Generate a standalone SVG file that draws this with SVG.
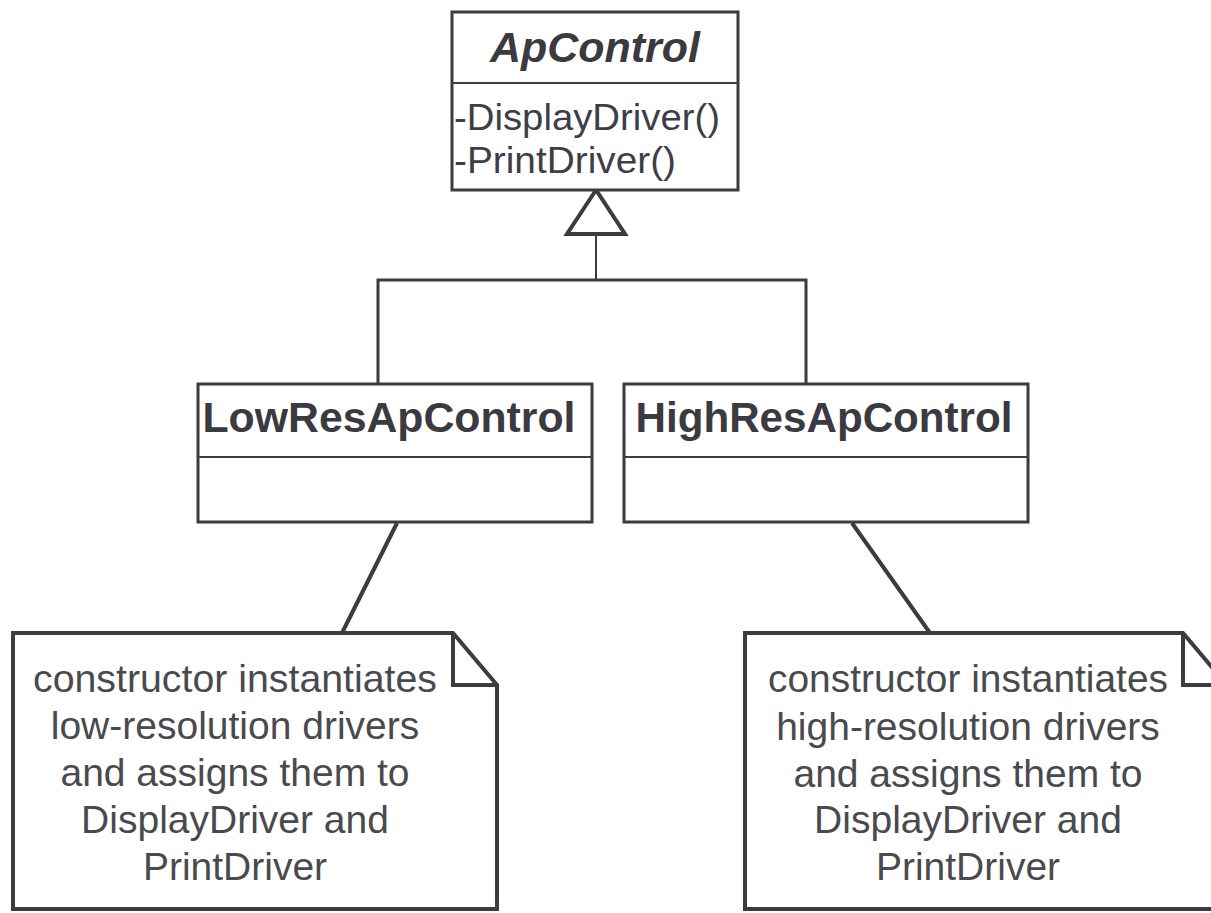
<svg xmlns="http://www.w3.org/2000/svg" width="1211" height="913" viewBox="0 0 1211 913">
  <style>
    .box { fill: #ffffff; stroke: #3b3b40; stroke-width: 3; }
    .sep { stroke: #4a3a3a; stroke-width: 2; }
    .note { fill: #ffffff; stroke: #3b3b40; stroke-width: 4; stroke-linejoin: miter; }
    .fold { fill: none; stroke: #3b3b40; stroke-width: 4; stroke-linejoin: miter; }
    .link { fill: none; stroke: #3b3b40; stroke-width: 4; }
    .gen { fill: none; stroke: #3b3b40; stroke-width: 3; }
    .title { font-family: "Liberation Sans", Arial, sans-serif; font-weight: bold; fill: #3a3a40; text-anchor: middle; }
    .member { font-family: "Liberation Sans", Arial, sans-serif; font-size: 37px; fill: #3e3e48; }
    .ntext { font-family: "Liberation Sans", Arial, sans-serif; font-size: 39px; fill: #4a4a4e; text-anchor: middle; }
  </style>

  <rect width="1211" height="913" fill="#ffffff"/>

  <!-- connectors: generalisation tree and note anchors -->
  <g id="connectors">
    <line x1="596" y1="234" x2="596" y2="280" stroke="#3b3b40" stroke-width="2"/>
    <polyline class="gen" points="378,384 378,280 806,280 806,384"/>
    <polygon points="596,190 567,234 625,234" fill="#ffffff" stroke="#3b3b40" stroke-width="4" stroke-linejoin="miter"/>
    <line class="link" x1="397" y1="523" x2="342" y2="633"/>
    <line class="link" x1="852" y1="523" x2="930" y2="633"/>
  </g>

  <!-- abstract base class -->
  <g id="ApControl">
    <rect class="box" x="452" y="12" width="286" height="178"/>
    <line class="sep" x1="452" y1="83" x2="738" y2="83"/>
    <text class="title" x="595" y="62" font-size="43" font-style="italic" textLength="210" lengthAdjust="spacingAndGlyphs">ApControl</text>
    <text class="member" x="454" y="130" textLength="266" lengthAdjust="spacingAndGlyphs">-DisplayDriver()</text>
    <text class="member" x="454" y="173" textLength="222" lengthAdjust="spacingAndGlyphs">-PrintDriver()</text>
  </g>

  <g id="LowResApControl">
    <rect class="box" x="198" y="384" width="394" height="138"/>
    <line class="sep" x1="198" y1="457" x2="592" y2="457" stroke="#a04848"/>
    <text class="title" x="389" y="432" font-size="42" textLength="373" lengthAdjust="spacingAndGlyphs">LowResApControl</text>
  </g>

  <g id="HighResApControl">
    <rect class="box" x="624" y="384" width="404" height="138"/>
    <line class="sep" x1="624" y1="457" x2="1028" y2="457" stroke="#a04848"/>
    <text class="title" x="824" y="432" font-size="42" textLength="377" lengthAdjust="spacingAndGlyphs">HighResApControl</text>
  </g>

  <!-- note attached to LowResApControl -->
  <g id="note-low">
    <path class="note" d="M13,633 H453 L497,685 V909 H13 Z"/>
    <path class="fold" d="M453,633 V685 H497"/>
    <text class="ntext" x="235" y="692" textLength="404" lengthAdjust="spacingAndGlyphs">constructor instantiates</text>
    <text class="ntext" x="235" y="739">low-resolution drivers</text>
    <text class="ntext" x="235" y="786">and assigns them to</text>
    <text class="ntext" x="235" y="833">DisplayDriver and</text>
    <text class="ntext" x="235" y="880">PrintDriver</text>
  </g>

  <!-- note attached to HighResApControl -->
  <g id="note-high">
    <path class="note" d="M745,633 H1183 L1227,685 V909 H745 Z"/>
    <path class="fold" d="M1183,633 V685 H1227"/>
    <text class="ntext" x="968" y="692" textLength="400" lengthAdjust="spacingAndGlyphs">constructor instantiates</text>
    <text class="ntext" x="968" y="740">high-resolution drivers</text>
    <text class="ntext" x="968" y="787">and assigns them to</text>
    <text class="ntext" x="968" y="833">DisplayDriver and</text>
    <text class="ntext" x="968" y="880">PrintDriver</text>
  </g>
</svg>
